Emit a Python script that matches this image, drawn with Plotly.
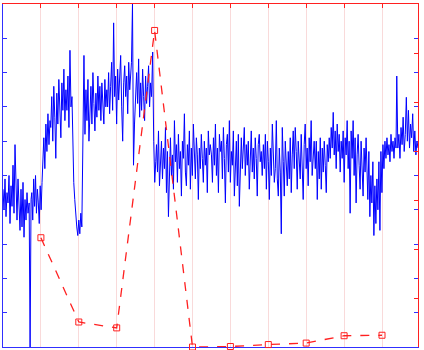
import numpy as np
import plotly.graph_objects as go

# Red series (right axis, 0..7)
red_x = [1, 2, 3, 4, 5, 6, 7, 8, 9, 10]
red_y = [2.23, 0.51, 0.39, 6.46, 0.0, 0.01, 0.05, 0.08, 0.23, 0.24]

# Blue series (left axis, 0..10): segments of (t_start, t_end, values)
seg_a = [4.6, 4.0, 4.9, 3.8, 4.5, 4.2, 5.0, 3.6, 4.7, 4.1, 5.3, 3.9, 5.9, 4.4, 3.7, 4.9, 4.2,
         3.4, 4.6, 3.5, 4.8, 3.2, 4.3, 3.7, 4.5, 3.9]
seg_spike = [4.2, 0.0, 4.3]
seg_b = [4.5, 3.7, 4.9, 4.1, 5.0, 3.9, 4.6, 4.2, 3.6, 4.7, 4.0, 4.8]
seg_c = [5.3, 6.1, 5.2, 6.5, 5.7, 6.8, 5.9, 6.6]
seg_d = [6.4, 7.3, 6.0, 7.6, 6.7, 5.5, 7.4, 6.5, 7.8, 6.8, 6.1, 7.7, 6.9, 8.1, 6.6, 7.5, 6.9,
         7.9, 6.4, 8.65, 7.0, 7.3]
seg_e = [6.1, 4.8, 4.3, 3.7, 3.5, 3.25, 3.7, 3.3, 3.9, 3.5]
seg_f = [5.6, 8.5, 6.2, 7.5, 6.6, 7.8, 6.0, 7.1, 7.6, 6.5, 8.0, 7.1, 6.3, 7.4, 6.7, 7.9, 6.9,
         7.6, 6.6, 7.7, 7.2, 6.5, 7.8, 7.0, 7.5]
seg_g = [7.0, 8.0, 6.8, 7.6, 8.3, 6.9, 9.45, 7.3, 7.9, 6.5, 8.1, 7.2, 7.8, 8.5, 7.0, 6.0, 7.7,
         8.2, 7.3, 7.9, 6.8, 8.3, 7.5, 8.0]
seg_h = [8.3, 10.0, 5.3, 6.5]
seg_i = [7.4, 8.0, 7.1, 8.4, 6.7, 7.7, 6.9, 8.1, 7.3, 6.6, 7.9, 7.1, 7.6, 8.2, 7.0, 7.7, 7.3]
seg_j = [8.6, 6.0, 4.8, 5.4]
seg_k = [5.9, 5.1, 6.3, 4.7, 5.5, 6.0, 4.9, 5.8, 5.2, 6.4, 4.5, 5.7, 3.8, 5.3, 6.1, 5.0, 5.6,
         4.6, 6.6, 5.4, 5.9, 4.8, 6.2, 5.2, 5.7, 4.4, 6.0, 5.5, 6.8, 5.1, 4.7, 5.9, 5.3, 6.3,
         4.6, 5.8, 5.0, 6.5, 5.4, 4.9, 6.1, 5.6, 4.3, 5.8, 5.2, 6.2, 5.5, 4.8, 6.0, 5.3, 5.8,
         4.5, 6.3, 5.6, 5.9]
seg_l = [5.6, 4.8, 6.1, 5.3, 6.5, 5.0, 5.8, 4.5, 6.2, 5.7, 6.0, 4.9, 6.4, 5.5, 4.2, 5.9, 6.2,
         5.1, 6.6, 4.8, 5.7, 5.3, 6.3, 4.4, 5.6, 6.0, 4.7, 6.2, 4.1, 5.4, 6.1, 5.2, 5.8, 6.4,
         5.0, 5.9, 5.3, 6.0, 4.6, 5.7, 6.3, 5.1, 5.8, 4.9, 6.1, 5.5, 4.4, 5.9, 6.2, 5.4, 5.7, 5.0]
seg_m = [5.9, 5.2, 6.2, 4.6, 6.0, 5.4, 4.3, 5.8, 5.0, 6.5, 5.5, 4.8, 5.2, 6.6, 4.9, 4.4, 5.8,
         5.1, 3.3, 6.4, 5.4, 4.4, 6.0, 5.1, 4.7, 5.7, 4.9, 6.1, 4.5, 5.6, 6.3, 5.2, 6.4, 5.7,
         4.6, 6.0, 5.3, 4.9, 6.2, 5.5, 4.3, 5.9, 6.5, 5.2, 5.8, 4.7, 6.1, 5.4, 6.6, 5.0, 5.7, 6.0]
seg_n = [5.2, 6.0, 4.3, 5.7, 4.9, 6.1, 4.6, 5.8, 5.1, 6.0, 5.3, 4.5, 5.9, 5.4, 6.1, 5.5, 6.4,
         5.8, 6.84, 5.6, 6.3, 5.2, 6.5, 5.7, 6.2, 5.1, 6.0, 5.5, 6.3, 4.8, 6.1, 5.6, 6.6, 5.2,
         6.0, 3.9, 6.3, 5.5, 6.6, 5.0, 6.1, 4.2, 5.6, 6.2, 5.3, 4.6, 6.0, 5.4, 4.4, 5.8, 5.1, 6.1]
seg_o = [5.3, 4.3, 5.7, 3.8, 5.0, 4.2, 5.4, 3.25, 4.7, 3.6, 4.9, 4.0, 5.4, 3.4, 5.7, 4.5, 5.9,
         5.2, 6.0, 5.5, 6.1, 5.6, 5.9, 5.4, 6.2, 5.7, 6.0, 5.5, 6.1, 5.8]
seg_p = [7.9, 5.8, 6.2, 5.5, 6.4, 5.9, 6.7, 5.7, 6.2, 7.28, 6.0, 6.9, 5.8, 6.5, 6.1, 6.8, 5.7,
         6.3, 5.6, 6.0, 5.8]

blue_segments = [
    (0.00, 0.66, seg_a), (0.69, 0.74, seg_spike), (0.76, 1.03, seg_b),
    (1.05, 1.24, seg_c), (1.26, 1.82, seg_d), (1.84, 2.08, seg_e),
    (2.11, 2.74, seg_f), (2.76, 3.37, seg_g), (3.39, 3.47, seg_h),
    (3.50, 3.92, seg_i), (3.95, 4.03, seg_j), (4.05, 5.47, seg_k),
    (5.50, 6.84, seg_l), (6.87, 8.21, seg_m), (8.24, 9.58, seg_n),
    (9.60, 10.37, seg_o), (10.39, 10.95, seg_p),
]

blue_x, blue_y = [], []
for t0, t1, vals in blue_segments:
    blue_x.extend(np.linspace(t0, t1, len(vals)).tolist())
    blue_y.extend(vals)

BLUE = "#0000ff"
AXBLUE = "#3030ff"
RED = "#ff2020"

fig = go.Figure()
fig.add_trace(go.Scatter(x=blue_x, y=blue_y, mode="lines",
                         line=dict(color=BLUE, width=1), xaxis="x", yaxis="y",
                         showlegend=False))
fig.add_trace(go.Scatter(x=red_x, y=red_y, mode="lines+markers",
                         line=dict(color=RED, width=1.3, dash="dash"),
                         marker=dict(symbol="square-open", size=6, color=RED, line=dict(width=1)),
                         xaxis="x2", yaxis="y2", cliponaxis=False, showlegend=False))

fig.update_layout(
    width=424, height=350,
    margin=dict(l=3, r=6, t=4, b=3),
    paper_bgcolor="white", plot_bgcolor="white",
    xaxis=dict(range=[0, 10.95], showline=True, linecolor=AXBLUE, linewidth=1,
               showgrid=True, gridcolor="#f9dada", gridwidth=1, dtick=1, tick0=0,
               showticklabels=False, ticks="", zeroline=False, layer="below traces"),
    xaxis2=dict(range=[0, 10.95], overlaying="x", side="top", anchor="y2",
                showline=True, linecolor=RED, linewidth=1, showgrid=False,
                ticks="inside", ticklen=4, tickcolor=RED, dtick=1, tick0=0,
                showticklabels=False, zeroline=False),
    yaxis=dict(range=[0, 10], showline=True, linecolor=AXBLUE, linewidth=1,
               ticks="inside", ticklen=4, tickcolor=AXBLUE, dtick=1,
               mirror="ticks", showgrid=False, showticklabels=False, zeroline=False),
    yaxis2=dict(range=[0, 7], overlaying="y", side="right", anchor="x2",
                showline=True, linecolor=RED, linewidth=1, ticks="inside",
                ticklen=4, tickcolor=RED, dtick=1, showgrid=False,
                showticklabels=False, zeroline=False),
)

fig.write_html("out.html")
